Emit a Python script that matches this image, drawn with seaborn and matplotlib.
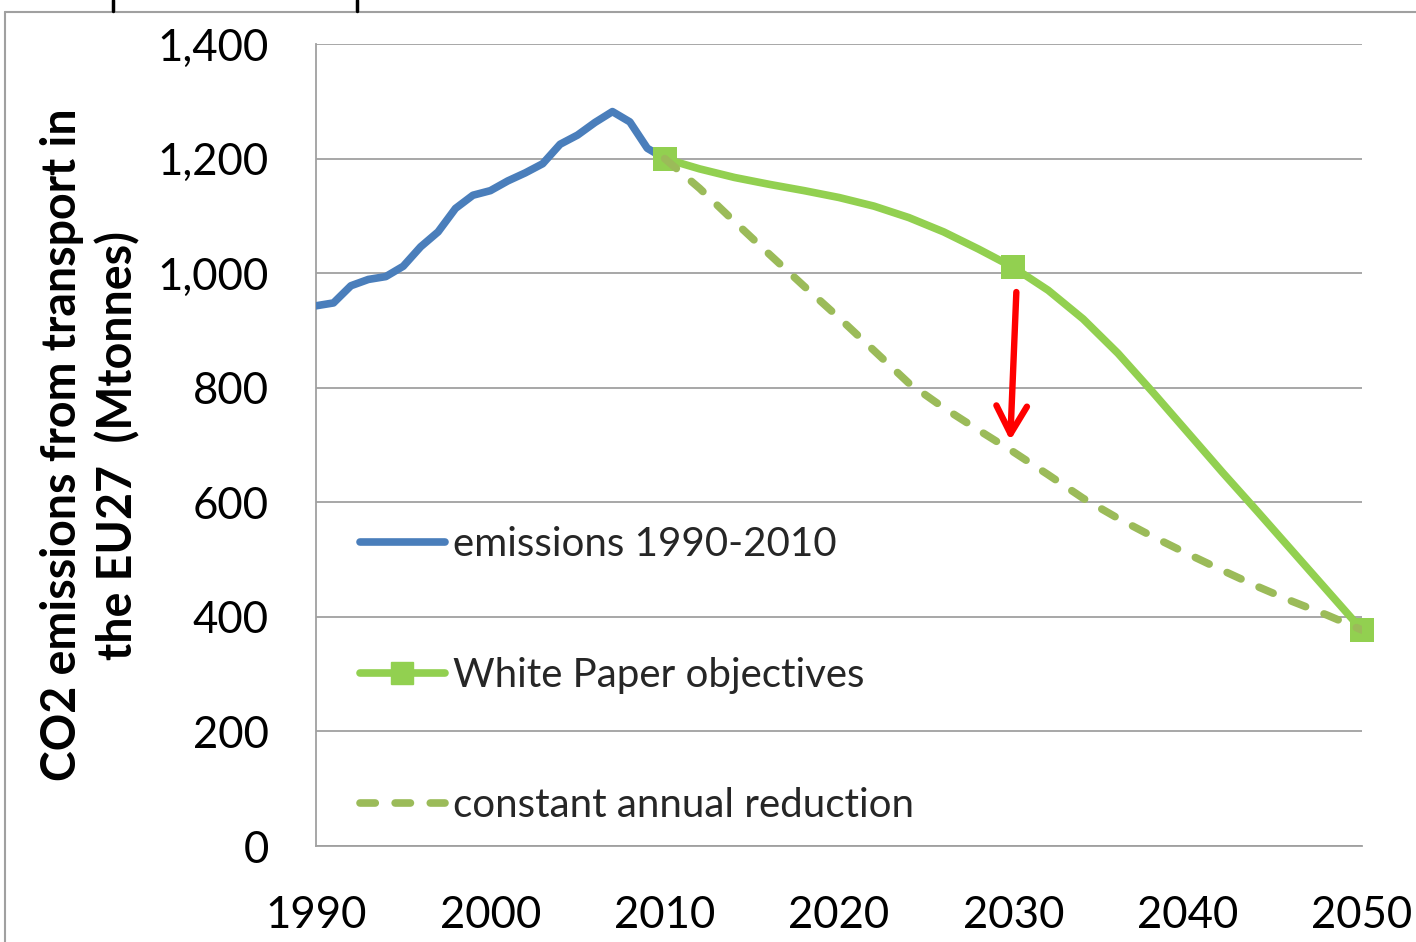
import matplotlib
matplotlib.use('Agg')
import matplotlib.pyplot as plt
from matplotlib.lines import Line2D
from matplotlib.ticker import FuncFormatter
import seaborn as sns

# emissions 1990-2010
hist_years = list(range(1990, 2011))
hist_values = [943, 948, 978, 989, 994, 1012, 1046, 1072, 1113, 1136, 1144,
               1161, 1175, 1191, 1225, 1241, 1263, 1282, 1264, 1218, 1200]

# White Paper objectives (markers) and the smoothed curve through them
wp_years = [2010, 2030, 2050]
wp_values = [1200, 1010, 377]
wp_curve_years = list(range(2010, 2051, 2))
wp_curve_values = [1200, 1182, 1167, 1155, 1144, 1132, 1117, 1097, 1072, 1042, 1010,
                   970, 920, 860, 792, 722, 652, 584, 515, 446, 377]

# constant annual reduction
car_years = list(range(2010, 2051, 2))
car_values = [1200, 1148, 1090, 1033, 977, 922, 865, 808, 765, 726, 688,
              648, 607, 572, 540, 510, 481, 453, 427, 403, 377]

labels = ['emissions 1990-2010', 'White Paper objectives', 'constant annual reduction']

blue = '#4A7EBB'
green = '#92D050'
olive = '#9BBB59'
grey = '#A0A0A0'

sns.set_theme(style='white')
plt.rcParams['font.family'] = ['Lato', 'DejaVu Sans']

fig = plt.figure(figsize=(14.16, 9.42), dpi=100)
ax = fig.add_axes([0.2232, 0.1019, 0.7387, 0.8514])

sns.lineplot(x=hist_years, y=hist_values, ax=ax, color=blue, linewidth=5.5,
             solid_capstyle='round', solid_joinstyle='round', zorder=3)
sns.lineplot(x=wp_curve_years, y=wp_curve_values, ax=ax, color=green, linewidth=5.5,
             solid_joinstyle='round', zorder=3)
sns.scatterplot(x=wp_years, y=wp_values, ax=ax, color=green, marker='s', s=300,
                linewidth=0, zorder=4, clip_on=False)
sns.lineplot(x=car_years, y=car_values, ax=ax, color=olive, linewidth=5.5,
             linestyle=(0, (2.0, 2.6)), dash_capstyle='round', zorder=5)

ax.annotate('', xy=(2029.82, 708), xytext=(2030.17, 967),
            arrowprops=dict(arrowstyle='->,head_length=1.0,head_width=0.55',
                            color='red', lw=4.6, mutation_scale=20,
                            shrinkA=0, shrinkB=0), zorder=6)

ax.set_xlim(1990, 2050)
ax.set_ylim(0, 1400)
ax.set_xticks(range(1990, 2051, 10))
ax.set_yticks(range(0, 1401, 200))
ax.yaxis.set_major_formatter(FuncFormatter(lambda v, p: f'{int(v):,}'))
ax.grid(axis='y', color=grey, linewidth=1.3)
ax.set_axisbelow(True)
for s in ['top', 'right']:
    ax.spines[s].set_visible(False)
for s in ['left', 'bottom']:
    ax.spines[s].set_color(grey)
    ax.spines[s].set_linewidth(1.3)
ax.tick_params(axis='x', direction='in', length=11.5, width=1.3, color=grey,
               labelsize=31.5, pad=35, labelcolor='black')
ax.tick_params(axis='y', length=0, labelsize=31.5, pad=34, labelcolor='black')

ax.set_xlabel('')
ax.set_ylabel('CO2 emissions from transport in\nthe EU27  (Mtonnes)',
              fontsize=33.5, fontweight='bold', color='black', linespacing=1.3)
ax.yaxis.set_label_coords(-0.168, 0.5)

handles = [
    Line2D([], [], color=blue, linewidth=5.5),
    Line2D([], [], color=green, linewidth=5.5, marker='s', markersize=16),
    Line2D([], [], color=olive, linewidth=5.5, linestyle=(0, (2.0, 2.6)),
           dash_capstyle='round'),
]
ax.legend(handles, labels, loc='center left', bbox_to_anchor=(0.042, 0.213),
          frameon=False, fontsize=29, handlelength=2.1, handletextpad=0.2,
          labelspacing=2.32, borderpad=0, borderaxespad=0)

# outer chart frame and cut-off marks at the top
fig.add_artist(Line2D([5 / 1416, 5 / 1416], [0, 1 - 12 / 942], color=grey, linewidth=1.5))
fig.add_artist(Line2D([5 / 1416, 1], [1 - 12 / 942, 1 - 12 / 942], color=grey, linewidth=1.5))
for xm in [113, 357]:
    fig.add_artist(Line2D([xm / 1416, xm / 1416], [1 - 11 / 942, 1], color='black', linewidth=2.5))

fig.savefig('out.png', dpi=100)
